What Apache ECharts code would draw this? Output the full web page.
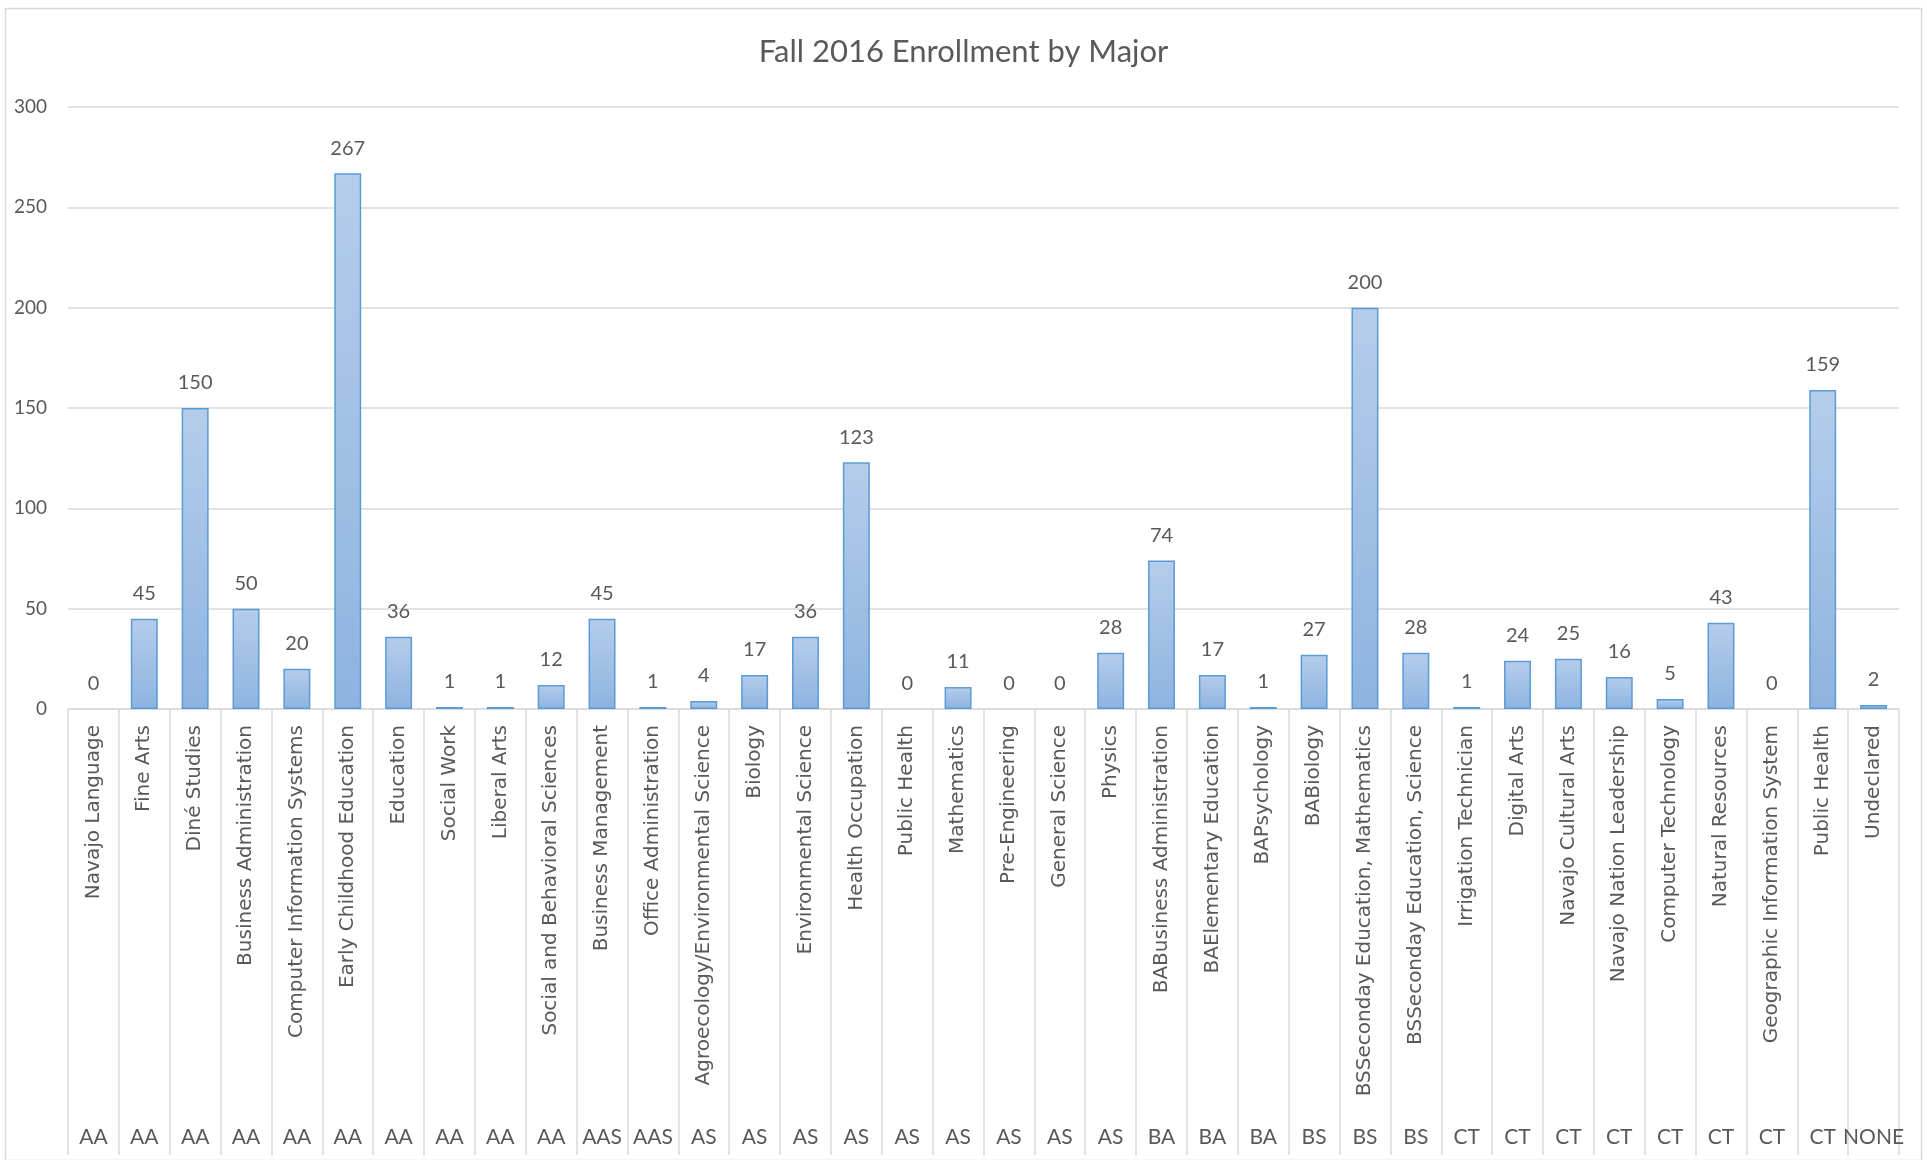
<!DOCTYPE html>
<html>
<head>
<meta charset="utf-8">
<script src="https://cdn.jsdelivr.net/npm/echarts@6/dist/echarts.min.js"></script>
<style>html,body{margin:0;padding:0;background:#fff;}#c{width:1927px;height:1160px;}</style>
</head>
<body>
<div id="c"></div>
<script>
var titleText = 'Fall 2016 Enrollment by Major';
var majors = ['Navajo Language','Fine Arts','Diné Studies','Business Administration','Computer Information Systems','Early Childhood Education','Education','Social Work','Liberal Arts','Social and Behavioral Sciences','Business Management','Office Administration','Agroecology/Environmental Science','Biology','Environmental Science','Health Occupation','Public Health','Mathematics','Pre-Engineering','General Science','Physics','BABusiness Administration','BAElementary Education','BAPsychology','BABiology','BSSeconday Education, Mathematics','BSSeconday Education, Science','Irrigation Technician','Digital Arts','Navajo Cultural Arts','Navajo Nation Leadership','Computer Technology','Natural Resources','Geographic Information System','Public Health','Undeclared'];
var degrees = ['AA','AA','AA','AA','AA','AA','AA','AA','AA','AA','AAS','AAS','AS','AS','AS','AS','AS','AS','AS','AS','AS','BA','BA','BA','BS','BS','BS','CT','CT','CT','CT','CT','CT','CT','CT','NONE'];
var enrollment = [0,45,150,50,20,267,36,1,1,12,45,1,4,17,36,123,0,11,0,0,28,74,17,1,27,200,28,1,24,25,16,5,43,0,159,2];
var yTicks = {min: 0, max: 300, interval: 50};

var chart = echarts.init(document.getElementById('c'));
var textColor = '#595959';
var gridColor = '#d9d9d9';
var barData = enrollment.map(function (v) {
  return v === 0 ? {value: v, itemStyle: {borderWidth: 0}} : v;
});
chart.setOption({
  animation: false,
  backgroundColor: '#ffffff',
  title: {
    text: titleText, left: 'center', top: 31,
    textStyle: {fontFamily: 'Lato', fontSize: 31, fontWeight: 'normal', color: textColor}
  },
  graphic: [{
    type: 'rect', left: 3, top: 6, shape: {width: 1916, height: 1152},
    style: {fill: 'none', stroke: gridColor, lineWidth: 1.5}, silent: true
  }],
  grid: {left: 68, right: 28, top: 107, bottom: 451, containLabel: false},
  xAxis: [{
    type: 'category', data: majors, position: 'bottom',
    axisLine: {show: true, lineStyle: {color: gridColor, width: 1.5}},
    axisTick: {show: true, interval: 0, length: 446, lineStyle: {color: gridColor, width: 1.5}},
    axisLabel: {interval: 0, rotate: 90, margin: 16, color: textColor, fontFamily: 'DejaVu Sans', fontSize: 20}
  }, {
    type: 'category', data: degrees, position: 'bottom', offset: 410,
    axisLine: {show: false}, axisTick: {show: false},
    axisLabel: {interval: 0, margin: 8, color: textColor, fontFamily: 'Lato', fontSize: 21}
  }],
  yAxis: {
    type: 'value', min: yTicks.min, max: yTicks.max, interval: yTicks.interval,
    axisLine: {show: false}, axisTick: {show: false},
    splitLine: {lineStyle: {color: gridColor, width: 1.5}},
    axisLabel: {margin: 21, color: textColor, fontFamily: 'Lato', fontSize: 19}
  },
  series: [{
    type: 'bar', xAxisIndex: 0, data: barData, barWidth: '53%',
    itemStyle: {
      color: new echarts.graphic.LinearGradient(0, 0, 0, 1, [
        {offset: 0, color: '#b5cdea'}, {offset: 1, color: '#8eb3e1'}
      ]),
      borderColor: '#5b9bd5', borderWidth: 1.5
    },
    label: {show: true, position: 'top', distance: 15, color: textColor, fontFamily: 'Lato', fontSize: 20}
  }]
});
</script>
</body>
</html>
